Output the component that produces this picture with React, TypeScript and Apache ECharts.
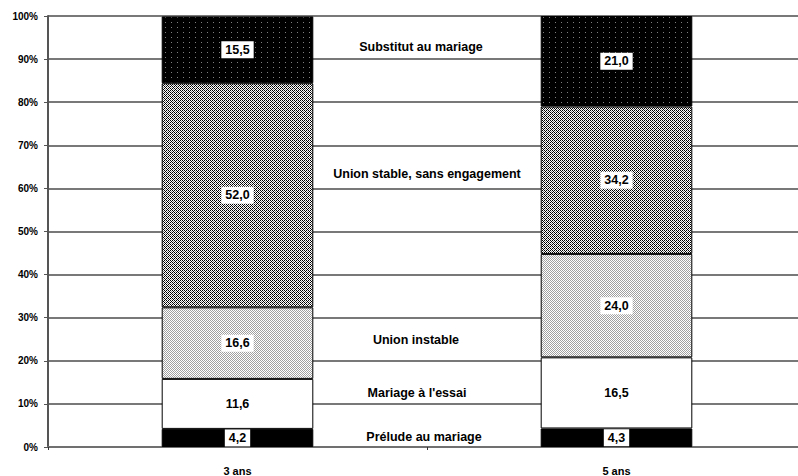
import React, { useEffect, useRef } from "react";
import * as echarts from "echarts";

const categories = ["3 ans", "5 ans"];
const seriesNames = [
  "Prélude au mariage",
  "Mariage à l'essai",
  "Union instable",
  "Union stable, sans engagement",
  "Substitut au mariage",
];
const prelude = [4.2, 4.3];
const mariageEssai = [11.6, 16.5];
const unionInstable = [16.6, 24.0];
const unionStable = [52.0, 34.2];
const substitut = [15.5, 21.0];
const yTicks = [0, 10, 20, 30, 40, 50, 60, 70, 80, 90, 100];

// annotation placement (pixels) for series names drawn between the bars
const annotationPos: [number, number][] = [
  [424, 437],
  [417, 393],
  [416, 340],
  [427, 174],
  [421, 47],
];

function makeTile(w: number, h: number, rows: string[]): HTMLCanvasElement {
  const c = document.createElement("canvas");
  c.width = w;
  c.height = h;
  const ctx = c.getContext("2d")!;
  const map: Record<string, string> = { K: "#000000", W: "#ffffff", G: "#808080", L: "#a0a0a0" };
  for (let y = 0; y < h; y++) {
    for (let x = 0; x < w; x++) {
      ctx.fillStyle = map[rows[y][x]];
      ctx.fillRect(x, y, 1, 1);
    }
  }
  return c;
}

export default function App() {
  const ref = useRef<HTMLDivElement>(null);
  useEffect(() => {
    if (!ref.current) return;
    const chart = echarts.init(ref.current, undefined, { renderer: "svg" });

    const dotTile = makeTile(6, 5, ["KKKKKK", "KKKKKK", "KKKGKK", "KKKKKK", "KKKKKK"]);
    const darkTile = makeTile(4, 4, ["KWKW", "WGWK", "KWKW", "WKWG"]);
    const lightTile = makeTile(2, 2, ["LW", "WL"]);

    const fills: any[] = [
      "#000000",
      "#ffffff",
      { image: lightTile, repeat: "repeat" },
      { image: darkTile, repeat: "repeat" },
      { image: dotTile, repeat: "repeat" },
    ];
    const values = [prelude, mariageEssai, unionInstable, unionStable, substitut];

    const series = values.map((vals, i) => ({
      name: seriesNames[i],
      type: "bar",
      stack: "total",
      barWidth: "40%",
      data: vals,
      itemStyle: { color: fills[i], borderColor: "#000", borderWidth: 1 },
      label: {
        show: true,
        position: "inside",
        formatter: (p: any) => Number(p.value).toFixed(1).replace(".", ","),
        color: "#000",
        fontFamily: "Liberation Sans, Arial, sans-serif",
        fontWeight: "bold",
        fontSize: 12.5,
        backgroundColor: "#fff",
        padding: [2, 4, 2, 4],
        lineHeight: 13,
      },
      emphasis: { disabled: true },
    }));

    chart.setOption({
      animation: false,
      backgroundColor: "#fff",
      grid: {
        left: 48,
        top: 16,
        width: 758,
        height: 431,
        containLabel: false,
        outerBoundsMode: "none",
      },
      xAxis: {
        type: "category",
        data: categories,
        axisLine: { lineStyle: { color: "#707070", width: 2 } },
        axisTick: { show: true, length: 3, lineStyle: { color: "#333" } },
        axisLabel: {
          color: "#000",
          fontFamily: "Liberation Sans, Arial, sans-serif",
          fontWeight: "bold",
          fontSize: 11,
          margin: 18,
        },
      },
      yAxis: {
        type: "value",
        min: yTicks[0],
        max: yTicks[yTicks.length - 1],
        interval: 10,
        axisLine: { show: true, lineStyle: { color: "#555", width: 2 } },
        axisTick: { show: true, length: 4, lineStyle: { color: "#555" } },
        splitLine: { lineStyle: { color: "#787878", width: 2 } },
        axisLabel: {
          formatter: "{value}%",
          color: "#000",
          fontFamily: "Liberation Sans, Arial, sans-serif",
          fontWeight: "bold",
          fontSize: 10,
          margin: 10,
        },
      },
      series,
      graphic: seriesNames.map((name, i) => ({
        type: "text",
        x: annotationPos[i][0],
        y: annotationPos[i][1],
        style: {
          text: name,
          fill: "#000",
          font: "bold 12.5px 'Liberation Sans', Arial, sans-serif",
          textAlign: "center",
          textVerticalAlign: "middle",
        },
      })),
    });
    return () => chart.dispose();
  }, []);
  return (
    <div
      ref={ref}
      style={{ position: "fixed", left: 0, top: 0, width: 798, height: 476 }}
    />
  );
}
